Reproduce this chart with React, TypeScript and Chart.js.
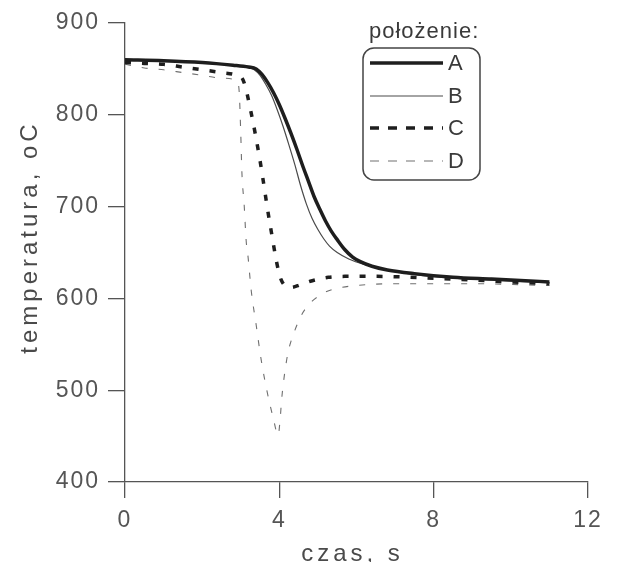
import React, { useEffect, useRef } from 'react';
import { Chart, registerables } from 'chart.js';

Chart.register(...registerables);

// ---- data ----
const timeA = [0, 1, 2, 2.8, 3.2, 3.4, 3.55, 3.7, 3.85, 4.0, 4.15, 4.3, 4.45, 4.6, 4.75, 4.9, 5.05, 5.2, 5.35, 5.5, 5.7, 5.9, 6.1, 6.4, 6.8, 7.5, 8.5, 9.5, 11];
const tempA = [860, 859, 857, 854, 852, 850, 844, 835, 824, 811, 796, 780, 763, 745, 728, 711, 697, 684, 673, 664, 653, 645, 640, 635, 631, 627, 623, 621, 618];

const timeB = [0, 1, 2, 2.8, 3.2, 3.35, 3.5, 3.65, 3.8, 3.95, 4.1, 4.25, 4.4, 4.55, 4.7, 4.85, 5.0, 5.15, 5.3, 5.5, 5.8, 6.2, 6.8, 7.5, 8.5, 9.5, 11];
const tempB = [860, 859, 857, 854, 852, 849, 843, 833, 821, 805, 787, 767, 746, 723, 703, 687, 675, 665, 657, 650, 643, 637, 631, 626, 622, 620, 617];

const timeC = [0, 0.5, 1, 1.5, 2, 2.5, 2.9, 3.06, 3.27, 3.5, 3.75, 4.05, 4.3, 4.55, 4.83, 5.27, 5.7, 6.5, 8, 9.5, 11];
const tempC = [857, 856, 855, 852, 849, 846, 843, 838, 802, 750, 683, 620, 612, 615, 619, 623, 624, 624, 622, 619, 616];

const timeD = [0, 0.5, 1, 1.5, 2, 2.5, 2.9, 2.96, 3.0, 3.03, 3.09, 3.14, 3.19, 3.27, 3.4, 3.53, 3.69, 3.84, 3.97, 4.02, 4.06, 4.1, 4.15, 4.22, 4.3, 4.4, 4.55, 4.7, 4.85, 5.0, 5.2, 5.5, 6.0, 7, 9, 11];
const tempD = [855, 851, 849, 846, 843, 840, 837, 825, 780, 737, 701, 663, 645, 609, 571, 533, 497, 470, 451, 468, 490, 506, 522, 540, 553, 565, 580, 590, 597, 602, 607, 611, 614, 616, 616, 614];

const seriesNames = ['A', 'B', 'C', 'D'];
const xTickValues = [0, 4, 8, 12];
const yTickValues = [400, 500, 600, 700, 800, 900];
const legendTitle = 'położenie:';
const xTitle = 'czas, s';
const yTitle = 'temperatura, oC';

const FONT = "'Liberation Sans', Arial, sans-serif";

function pts(t: number[], v: number[]) {
  return t.map((x, i) => ({ x, y: v[i] }));
}

const spacingPlugin = {
  id: 'spacing',
  beforeLayout(chart: any) {
    chart.ctx.letterSpacing = '2px';
  },
  beforeDraw(chart: any) {
    chart.ctx.letterSpacing = '2px';
  },
};

const decorPlugin = {
  id: 'decor',
  afterDraw(chart: any) {
    const ctx = chart.ctx as CanvasRenderingContext2D;
    const area = chart.chartArea;
    ctx.save();
    // axis titles
    ctx.fillStyle = '#4a4a4a';
    ctx.font = `24px ${FONT}`;
    (ctx as any).letterSpacing = '4px';
    ctx.textAlign = 'center';
    ctx.textBaseline = 'alphabetic';
    ctx.fillText(xTitle, (area.left + area.right) / 2 - 4, 561);
    ctx.save();
    ctx.translate(37, 237);
    ctx.rotate(-Math.PI / 2);
    ctx.fillText(yTitle, 0, 0);
    ctx.restore();

    // legend
    (ctx as any).letterSpacing = '1px';
    ctx.font = `22px ${FONT}`;
    ctx.fillStyle = '#3a3a3a';
    ctx.textAlign = 'left';
    ctx.fillText(legendTitle, 369, 38);

    ctx.beginPath();
    (ctx as any).roundRect(363, 48, 117, 132, 11);
    ctx.strokeStyle = '#444';
    ctx.lineWidth = 1.5;
    ctx.stroke();

    const rows = [63, 96, 128, 161];
    chart.data.datasets.forEach((ds: any, i: number) => {
      const y = rows[i];
      ctx.beginPath();
      ctx.setLineDash(ds.borderDash ? [9, 9] : []);
      ctx.strokeStyle = ds.borderColor;
      ctx.lineWidth = ds.borderWidth;
      ctx.moveTo(370, y);
      ctx.lineTo(443, y);
      ctx.stroke();
      ctx.setLineDash([]);
      ctx.fillStyle = '#3a3a3a';
      ctx.textBaseline = 'middle';
      ctx.fillText(ds.label, 448, y + 1);
    });
    ctx.restore();
  },
};

export default function App() {
  const ref = useRef<HTMLCanvasElement | null>(null);

  useEffect(() => {
    if (!ref.current) return;
    const chart = new Chart(ref.current, {
      type: 'line',
      data: {
        datasets: [
          {
            label: seriesNames[0],
            data: pts(timeA, tempA),
            borderColor: '#1e1e1e',
            borderWidth: 3.5,
          },
          {
            label: seriesNames[1],
            data: pts(timeB, tempB),
            borderColor: '#4a4a4a',
            borderWidth: 1.2,
          },
          {
            label: seriesNames[2],
            data: pts(timeC, tempC),
            borderColor: '#1e1e1e',
            borderWidth: 3.5,
            borderDash: [6, 11],
          },
          {
            label: seriesNames[3],
            data: pts(timeD, tempD),
            borderColor: '#707070',
            borderWidth: 1.1,
            borderDash: [6, 11],
          },
        ] as any,
      },
      options: {
        animation: false,
        responsive: false,
        devicePixelRatio: 1,
        elements: {
          point: { radius: 0 },
          line: { cubicInterpolationMode: 'monotone', fill: false },
        },
        layout: { padding: { top: 23, right: 29, left: 0, bottom: 0 } },
        plugins: {
          legend: { display: false },
          tooltip: { enabled: false },
          title: { display: false },
        },
        scales: {
          x: {
            type: 'linear',
            min: 0,
            max: 12,
            afterFit(scale: any) {
              scale.height = 80;
            },
            afterBuildTicks(scale: any) {
              scale.ticks = xTickValues.map((v) => ({ value: v }));
            },
            ticks: {
              font: { family: FONT, size: 23 },
              color: '#555',
              padding: 9,
              maxRotation: 0,
              autoSkip: false,
            },
            grid: {
              drawOnChartArea: false,
              drawTicks: true,
              tickLength: 16,
              color: '#555',
              lineWidth: 1.3,
            },
            border: { display: true, color: '#555', width: 1.3 },
          },
          y: {
            type: 'linear',
            min: 400,
            max: 900,
            afterFit(scale: any) {
              scale.width = 125;
            },
            afterBuildTicks(scale: any) {
              scale.ticks = yTickValues.map((v) => ({ value: v }));
            },
            ticks: {
              font: { family: FONT, size: 23 },
              color: '#555',
              padding: 8,
              autoSkip: false,
            },
            grid: {
              drawOnChartArea: false,
              drawTicks: true,
              tickLength: 17,
              color: '#555',
              lineWidth: 1.3,
            },
            border: { display: true, color: '#555', width: 1.3 },
          },
        },
      } as any,
      plugins: [spacingPlugin, decorPlugin],
    });
    return () => chart.destroy();
  }, []);

  return (
    <canvas
      ref={ref}
      width={617}
      height={562}
      style={{ position: 'fixed', left: 0, top: 0, display: 'block', background: '#fff' }}
    />
  );
}
